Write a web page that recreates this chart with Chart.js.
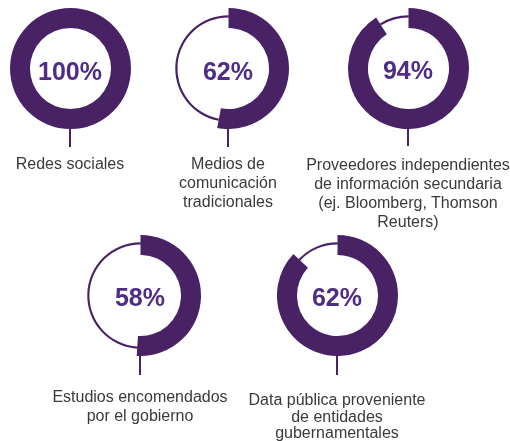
<!DOCTYPE html>
<html>
<head>
<meta charset="utf-8">
<script src="https://cdn.jsdelivr.net/npm/chart.js@4.4.1/dist/chart.umd.min.js"></script>
<style>
  html, body { margin: 0; padding: 0; background: #ffffff; }
  #stage { position: relative; width: 510px; height: 441px; overflow: hidden; background: #fff; }
  .ring { position: absolute; width: 121px; height: 121px; }
  .pct { position: absolute; width: 140px; height: 25px; line-height: 25px; text-align: center;
         font-family: "Liberation Sans", Arial, sans-serif; font-weight: bold; font-size: 25px; color: #4f2c86; }
  .stem { position: absolute; width: 2px; background: #482265; }
  .lbl { position: absolute; width: 220px; text-align: center; font-family: "Liberation Sans", Arial, sans-serif;
         font-size: 16px; color: #3a3a3a; }
</style>
</head>
<body>
<div id="stage"></div>
<script>
// Category names (label lines under each ring)
const categories = [
  ["Redes sociales"],
  ["Medios de", "comunicación", "tradicionales"],
  ["Proveedores independientes", "de información secundaria", "(ej. Bloomberg, Thomson", "Reuters)"],
  ["Estudios encomendados", "por el gobierno"],
  ["Data pública proveniente", "de entidades", "gubernamentales"]
];
// Percentages printed in the ring centres
const valueLabels = ["100%", "62%", "94%", "58%", "62%"];
// Share of each ring drawn as the thick arc
const arcShares = [100, 53, 91, 51, 87];

// layout (ring centres, label placement)
const layout = [
  { cx: 70,  cy: 68.5, stem: 18, labelTop: 154, lh: 19 },
  { cx: 228, cy: 68.5, stem: 18, labelTop: 154, lh: 19 },
  { cx: 408, cy: 68,   stem: 18, labelTop: 155, lh: 19 },
  { cx: 140, cy: 295,  stem: 20, labelTop: 388, lh: 18.5 },
  { cx: 337, cy: 295,  stem: 20, labelTop: 392, lh: 16.5 }
];

const PURPLE = "#482265";
const stage = document.getElementById("stage");

function addCanvas(L) {
  const box = document.createElement("div");
  box.className = "ring";
  box.style.left = (L.cx - 60.5) + "px";
  box.style.top = (L.cy - 60.5) + "px";
  const cv = document.createElement("canvas");
  box.appendChild(cv);
  stage.appendChild(box);
  return cv;
}

const baseOptions = {
  responsive: true,
  maintainAspectRatio: false,
  animation: false,
  events: [],
  layout: { padding: 0 },
  plugins: { legend: { display: false }, tooltip: { enabled: false } }
};

arcShares.forEach((v, i) => {
  const L = layout[i];
  const rest = 100 - v;

  // thin full ring underneath
  new Chart(addCanvas(L), {
    type: "doughnut",
    data: { labels: ["share", "rest"],
      datasets: [{ data: [v, rest], backgroundColor: [PURPLE, PURPLE], borderWidth: 0 }] },
    options: Object.assign({}, baseOptions, { radius: "88%", cutout: "96%" })
  });

  // thick arc on top
  new Chart(addCanvas(L), {
    type: "doughnut",
    data: { labels: ["share", "rest"],
      datasets: [{ data: [v, rest], backgroundColor: [PURPLE, "rgba(0,0,0,0)"], borderWidth: 0 }] },
    options: Object.assign({}, baseOptions, { radius: "100%", cutout: "67%" })
  });

  const pct = document.createElement("div");
  pct.className = "pct";
  pct.textContent = valueLabels[i];
  pct.style.left = (L.cx - 70) + "px";
  pct.style.top = (L.cy - 10) + "px";
  stage.appendChild(pct);

  const stem = document.createElement("div");
  stem.className = "stem";
  stem.style.left = (L.cx - 1) + "px";
  stem.style.top = (L.cy + 60) + "px";
  stem.style.height = L.stem + "px";
  stage.appendChild(stem);

  const lbl = document.createElement("div");
  lbl.className = "lbl";
  lbl.style.left = (L.cx - 110) + "px";
  lbl.style.top = L.labelTop + "px";
  lbl.style.lineHeight = L.lh + "px";
  lbl.innerHTML = categories[i].join("<br>");
  stage.appendChild(lbl);
});
</script>
</body>
</html>
